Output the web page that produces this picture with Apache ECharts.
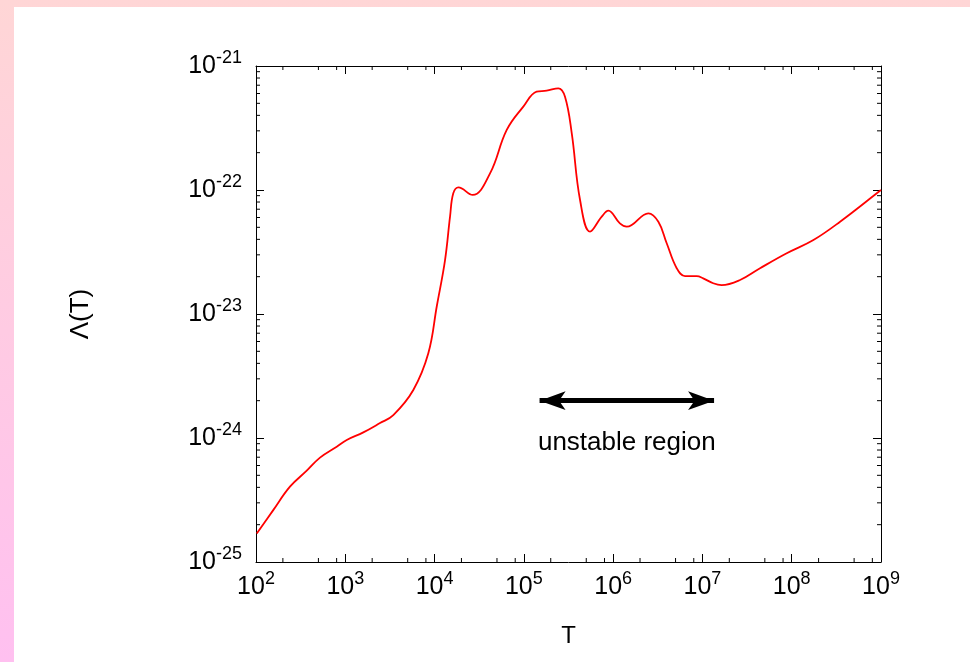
<!DOCTYPE html>
<html>
<head>
<meta charset="utf-8">
<script src="https://cdn.jsdelivr.net/npm/echarts@6/dist/echarts.min.js"></script>
<style>
  html, body { margin: 0; padding: 0; width: 970px; height: 662px; overflow: hidden;
    background: linear-gradient(to bottom, #ffd6d6, #ffc0f0); }
  #chart { position: absolute; left: 14px; top: 7px; width: 956px; height: 655px; background: #ffffff; }
</style>
</head>
<body>
<div id="chart"></div>
<script>
// Radiative cooling function Λ(T) versus temperature T
const temperatures = [
  102, 156, 240, 370, 521, 802, 1038, 1592, 2449, 3451, 5781, 8511,
  1.06e4, 1.31e4, 1.49e4, 1.62e4, 1.85e4, 2.67e4, 4.18e4, 6.43e4, 9.86e4,
  1.39e5, 1.80e5, 2.43e5, 2.89e5, 3.44e5, 4.26e5, 5.51e5, 7.45e5, 8.83e5,
  1.19e6, 1.42e6, 2.48e6, 3.21e6, 3.98e6, 5.15e6, 6.38e6, 8.63e6,
  1.02e7, 1.32e7, 1.64e7, 2.64e7, 4.42e7, 8.79e7, 1.75e8, 3.48e8, 9.75e8, 1e9
];
const coolingRates = [
  1.70e-25, 2.62e-25, 4.05e-25, 5.45e-25, 6.95e-25, 8.51e-25, 9.64e-25, 1.11e-24, 1.32e-24, 1.53e-24, 2.44e-24, 4.82e-24,
  1.16e-23, 2.72e-23, 6.10e-23, 9.40e-23, 1.05e-22, 9.12e-23, 1.36e-22, 3.05e-22, 4.70e-22,
  6.21e-22, 6.32e-22, 6.61e-22, 5.65e-22, 2.86e-22, 8.30e-23, 4.61e-23, 6.10e-23, 6.81e-23,
  5.38e-23, 5.06e-23, 6.49e-23, 5.55e-23, 3.72e-23, 2.34e-23, 2.02e-23, 2.02e-23,
  1.94e-23, 1.77e-23, 1.71e-23, 1.88e-23, 2.34e-23, 3.09e-23, 3.95e-23, 5.55e-23, 9.86e-23, 1.0e-22
];

// Axis ranges and minor tick factors within each decade
const xRange = [1e2, 1e9];
const yRange = [1e-25, 1e-21];
const xMinorFactors = [2, 5, 8];
const yMinorFactors = [2, 3, 4, 5, 6, 7, 8, 9];

// Double-headed arrow marking the unstable temperature range
const arrowSpan = [1.5e5, 1.35e7];
const arrowLevel = 2.0e-24;
const arrowText = 'unstable region';

// The log axis works in units of 1e-25 so its decade ticks stay well clear of
// floating-point rounding; labels add the exponent back.
const LAMBDA_UNIT = 1e-25;
const UNIT_EXP = Math.round(Math.log10(LAMBDA_UNIT));
const toUnit = v => v / LAMBDA_UNIT;
const yAxisRange = yRange.map(toUnit);

const FONT = '"Liberation Sans", Arial, Helvetica, sans-serif';

function xLabel(v) {
  return '10{sup|' + Math.round(Math.log10(v)) + '}';
}
function yLabel(v) {
  return '10{sup|' + (Math.round(Math.log10(v)) + UNIT_EXP) + '}';
}
const labelRich = {
  sup: { fontSize: 18, fontFamily: FONT, color: '#000', verticalAlign: 'top', lineHeight: 10 }
};

// Minor tick items: [x, y, kind] with kind 0 for x-axis ticks, 1 for y-axis ticks
const minorTicks = [];
for (let e = Math.round(Math.log10(xRange[0])); e < Math.round(Math.log10(xRange[1])); e++) {
  xMinorFactors.forEach(f => minorTicks.push([f * Math.pow(10, e), yAxisRange[0], 0]));
}
for (let e = Math.round(Math.log10(yAxisRange[0])); e < Math.round(Math.log10(yAxisRange[1])); e++) {
  yMinorFactors.forEach(f => minorTicks.push([xRange[0], f * Math.pow(10, e), 1]));
}

function axisBase(extra) {
  return Object.assign({
    type: 'log', logBase: 10,
    nameMoveOverlap: false,
    axisLine: { show: true, onZero: false, lineStyle: { color: '#000', width: 1 } },
    axisTick: { show: true, inside: true, length: 8, lineStyle: { color: '#000', width: 1 } },
    splitLine: { show: false },
    minorTick: { show: false }
  }, extra);
}

const chart = echarts.init(document.getElementById('chart'), null, { renderer: 'canvas' });
chart.setOption({
  animation: false,
  backgroundColor: '#ffffff',
  grid: { left: 242, right: 89, top: 59, bottom: 100, containLabel: false, outerBoundsMode: 'none' },
  xAxis: [
    axisBase({
      position: 'bottom', min: xRange[0], max: xRange[1],
      name: 'T', nameLocation: 'middle', nameGap: 62,
      nameTextStyle: { fontSize: 24, fontFamily: FONT, color: '#000', verticalAlign: 'top' },
      axisLabel: {
        show: true, margin: 8, formatter: xLabel, color: '#000',
        fontSize: 25, fontFamily: FONT, lineHeight: 34,
        rich: labelRich
      }
    }),
    axisBase({ position: 'top', min: xRange[0], max: xRange[1], axisLabel: { show: false } })
  ],
  yAxis: [
    axisBase({
      position: 'left', min: yAxisRange[0], max: yAxisRange[1],
      name: 'Λ(T)', nameLocation: 'middle', nameGap: 162, nameRotate: 90,
      nameTextStyle: { fontSize: 26, fontFamily: FONT, color: '#000' },
      axisLabel: {
        show: true, margin: 14, formatter: yLabel, color: '#000',
        fontSize: 25, fontFamily: FONT, lineHeight: 34,
        rich: labelRich
      }
    }),
    axisBase({ position: 'right', min: yAxisRange[0], max: yAxisRange[1], axisLabel: { show: false } })
  ],
  series: [
    {
      type: 'line',
      data: temperatures.map((t, i) => [t, toUnit(coolingRates[i])]),
      showSymbol: false,
      smooth: 0.4,
      lineStyle: { color: '#ff0000', width: 1.8 },
      itemStyle: { color: '#ff0000' },
      silent: true,
      markLine: {
        silent: true,
        symbol: ['arrow', 'arrow'],
        symbolSize: [14, 26],
        lineStyle: { color: '#000', width: 5, type: 'solid' },
        itemStyle: { color: '#000' },
        label: {
          show: true, formatter: arrowText, position: 'insideMiddleBottom', distance: 29,
          color: '#000', fontSize: 26, fontFamily: FONT
        },
        data: [[
          { coord: [arrowSpan[0], toUnit(arrowLevel)] },
          { coord: [arrowSpan[1], toUnit(arrowLevel)] }
        ]]
      }
    },
    {
      type: 'custom',
      clip: false,
      silent: true,
      data: minorTicks,
      renderItem: function (params, api) {
        const kind = api.value(2);
        const style = { stroke: '#000', lineWidth: 1 };
        const len = 4;
        if (kind === 0) {
          const v = api.value(0);
          const b = api.coord([v, yAxisRange[0]]);
          const t = api.coord([v, yAxisRange[1]]);
          return { type: 'group', children: [
            { type: 'line', shape: { x1: b[0], y1: b[1], x2: b[0], y2: b[1] - len }, style: style },
            { type: 'line', shape: { x1: t[0], y1: t[1], x2: t[0], y2: t[1] + len }, style: style }
          ]};
        }
        const v = api.value(1);
        const l = api.coord([xRange[0], v]);
        const r = api.coord([xRange[1], v]);
        return { type: 'group', children: [
          { type: 'line', shape: { x1: l[0], y1: l[1], x2: l[0] + len, y2: l[1] }, style: style },
          { type: 'line', shape: { x1: r[0], y1: r[1], x2: r[0] - len, y2: r[1] }, style: style }
        ]};
      }
    }
  ]
});
</script>
</body>
</html>
